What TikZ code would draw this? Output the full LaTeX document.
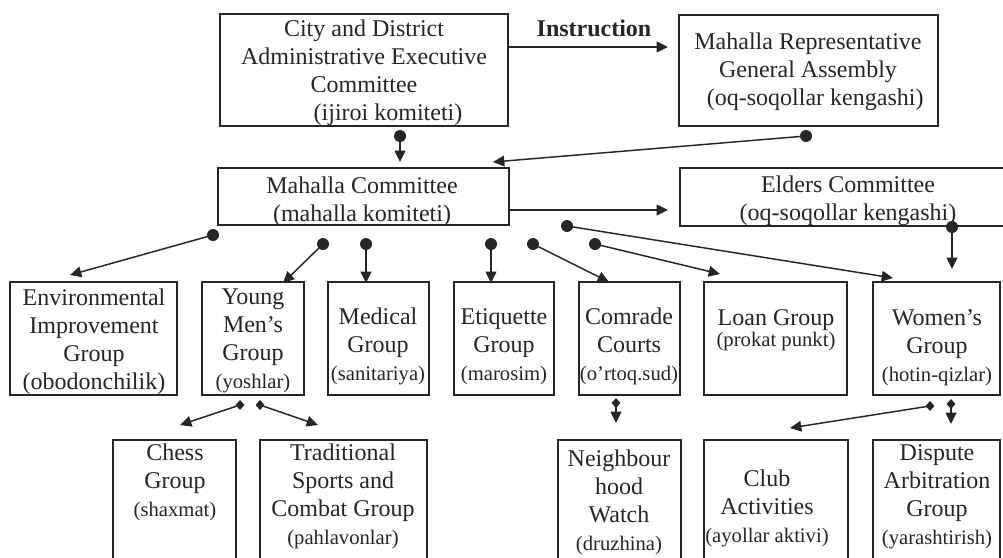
\documentclass[tikz,border=0pt]{standalone}
\usepackage{fontspec}
\setmainfont{Liberation Serif}
\usetikzlibrary{arrows.meta,fit,calc}
\definecolor{ink}{HTML}{262626}
\newcommand\subt{\fontsize{15.5}{21}\selectfont}
\tikzset{
  box/.style={draw=ink, line width=1.3pt, inner sep=0pt, outer sep=0pt},
  lbl/.style={anchor=north, inner sep=0pt, align=center, text=ink, font=\fontsize{18}{21}\selectfont},
  arr/.style={draw=ink, line width=1.1pt, -{Triangle[length=8.5pt,width=8pt]}},
  dotmark/.pic={\fill[ink] (0,0) circle[radius=4.5pt];},
  diam/.pic={\fill[ink] (0,-5) -- (4.4,0) -- (0,5) -- (-4.4,0) -- cycle;},
}
\begin{document}
\begin{tikzpicture}[x=0.75pt, y=-0.75pt]
\useasboundingbox (0,0) rectangle (1003,557);
\clip (0,0) rectangle (1003,557);
\fill[white] (0,0) rectangle (1003,557);

% ---------- boxes ----------
\node[box, fit={(220,14) (508,126)}] (city) {};
\node[box, fit={(679,15) (938,126)}] (rep) {};
\node[box, fit={(218,168) (509,225)}] (mc) {};
\node[box, fit={(680,168) (1020,226)}] (eld) {};

\node[box, fit={(10,282) (177,395)}] (env) {};
\node[box, fit={(202,282) (304,395)}] (ym) {};
\node[box, fit={(328,282) (429,395)}] (med) {};
\node[box, fit={(454,282) (554,395)}] (eti) {};
\node[box, fit={(579,282) (680,395)}] (com) {};
\node[box, fit={(704,282) (847,395)}] (loan) {};
\node[box, fit={(873,282) (1000,395)}] (wom) {};

\node[box, fit={(113,440) (236,575)}] (chess) {};
\node[box, fit={(260,440) (427,575)}] (trad) {};
\node[box, fit={(558,440) (681,575)}] (nb) {};
\node[box, fit={(704,440) (848,575)}] (club) {};
\node[box, fit={(873,440) (1000,575)}] (disp) {};

% ---------- texts ----------
\node[lbl] (city-t) at (364,20) {City and District\\Administrative Executive\\Committee\\\hspace*{2em}(ijiroi komiteti)};
\node[lbl] (rep-t) at (808,33) {Mahalla Representative\\General Assembly\\\hspace*{0.6em}(oq-soqollar kengashi)};
\node[lbl] (mc-t) at (362,177) {Mahalla Committee\\(mahalla komiteti)};
\node[lbl] (eld-t) at (848,176) {Elders Committee\\(oq-soqollar kengashi)};

\node[lbl] (env-t) at (94,289) {Environmental\\Improvement\\Group\\(obodonchilik)};
\node[lbl] (ym-t) at (253,289) {Young\\Men’s\\Group\\{\subt(yoshlar)}};
\node[lbl] (med-t) at (378,308) {Medical\\Group\\{\subt(sanitariya)}};
\node[lbl] (eti-t) at (504,308) {Etiquette\\Group\\{\subt(marosim)}};
\node[lbl] (com-t) at (629,308) {Comrade\\Courts\\{\subt(o’rtoq.sud)}};
\node[lbl] (loan-t) at (776,309) {Loan Group\\[-5pt]{\subt(prokat punkt)}};
\node[lbl] (wom-t) at (937,309) {Women’s\\Group\\{\subt(hotin-qizlar)}};

\node[lbl] (chess-t) at (175,444) {Chess\\Group\\{\subt(shaxmat)}};
\node[lbl] (trad-t) at (343,444) {Traditional\\Sports and\\Combat Group\\{\subt(pahlavonlar)}};
\node[lbl] (nb-t) at (619,450) {Neighbour\\hood\\Watch\\{\subt(druzhina)}};
\node[lbl] (club-t) at (767,470) {Club\\Activities\\{\subt(ayollar aktivi)}};
\node[lbl] (disp-t) at (937,444) {Dispute\\Arbitration\\Group\\{\subt(yarashtirish)}};

\node[text=ink, inner sep=0pt, font=\fontsize{18}{21}\selectfont\bfseries] (instr) at (594,28) {Instruction};

% ---------- connector ends ----------
\coordinate (iTip) at (668,47);
\coordinate (eTip) at (668,210);
\coordinate (d2) at (400,136);  \coordinate (t2) at (400,162);
\coordinate (d3) at (806,136);  \coordinate (t3) at (493,162);
\coordinate (d5) at (952,227);  \coordinate (t5) at (952,269);
\coordinate (d6) at (213,235);  \coordinate (t6) at (70,275);
\coordinate (d7) at (323,244);  \coordinate (t7) at (283,283);
\coordinate (d8) at (366,244);  \coordinate (t8) at (366,283);
\coordinate (d9) at (491,244);  \coordinate (t9) at (491,283);
\coordinate (d10) at (533,244); \coordinate (t10) at (609,282);
\coordinate (d11) at (595,244); \coordinate (t11) at (720,274);
\coordinate (d12) at (567,226); \coordinate (t12) at (893,278);
\coordinate (q13) at (240,405); \coordinate (t13) at (180,425);
\coordinate (q14) at (260,405); \coordinate (t14) at (318,425);
\coordinate (q15) at (616,403); \coordinate (t15) at (616,423);
\coordinate (q16) at (930,406); \coordinate (t16) at (790,428);
\coordinate (q17) at (951,404); \coordinate (t17) at (951,424);

% ---------- connectors ----------
\draw[arr] (city.east |- iTip) -- (iTip);
\draw[arr] (mc.east |- eTip) -- (eTip);
\foreach \i in {2,3,5,6,7,8,9,10,11,12}{
  \draw[arr] (d\i) -- (t\i);
  \pic at (d\i) {dotmark};
}
\foreach \i in {13,14,15,16,17}{
  \draw[arr] (q\i) -- (t\i);
  \pic at (q\i) {diam};
}
\end{tikzpicture}
\end{document}
